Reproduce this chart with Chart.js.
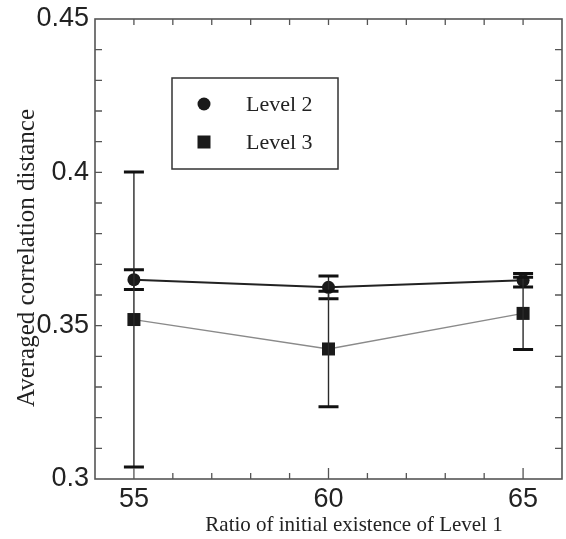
<!DOCTYPE html>
<html>
<head>
<meta charset="utf-8">
<script src="https://cdn.jsdelivr.net/npm/chart.js@4.4.1/dist/chart.umd.min.js"></script>
<style>
  html, body { margin: 0; padding: 0; background: #fff; }
  #wrap { width: 566px; height: 539px; }
</style>
</head>
<body>
<div id="wrap"><canvas id="corrChart" width="566" height="539"></canvas></div>
<script>
// дані з графіка
const ratios = [55, 60, 65];
const level2 = [0.3650, 0.3625, 0.3648];
const level2Err = [0.0032, 0.0037, 0.0022];
const level3 = [0.3520, 0.3424, 0.3540];
const level3Err = [0.0481, 0.0188, 0.0118];
const xMajorTicks = [55, 60, 65];
const yMajorTicks = [0.3, 0.35, 0.4, 0.45];
const xTitle = 'Ratio of initial existence of Level 1';
const yTitle = 'Averaged correlation distance';

const toPoints = (vals) => vals.map((v, i) => ({ x: ratios[i], y: v }));

// похибки, рамка, засічки всередину, легенда і підписи осей
const errorBars = {
  id: 'errorBars',
  afterDatasetsDraw(chart) {
    const { ctx, scales: { x, y } } = chart;
    const sets = [[level2, level2Err], [level3, level3Err]];
    ctx.save();
    sets.forEach(([vals, errs]) => {
      vals.forEach((v, i) => {
        const px = x.getPixelForValue(ratios[i]);
        const top = y.getPixelForValue(v + errs[i]);
        const bot = y.getPixelForValue(v - errs[i]);
        ctx.strokeStyle = '#2a2a2a';
        ctx.lineWidth = 1.4;
        ctx.beginPath();
        ctx.moveTo(px, top);
        ctx.lineTo(px, bot);
        ctx.stroke();
        ctx.strokeStyle = '#111';
        ctx.lineWidth = 3;
        ctx.beginPath();
        ctx.moveTo(px - 10, top); ctx.lineTo(px + 10, top);
        ctx.moveTo(px - 10, bot); ctx.lineTo(px + 10, bot);
        ctx.stroke();
      });
    });
    ctx.restore();
  },
  afterDraw(chart) {
    const { ctx, chartArea: a, scales: { x, y } } = chart;
    ctx.save();
    ctx.strokeStyle = '#555';
    ctx.lineWidth = 1.6;
    ctx.strokeRect(a.left, a.top, a.right - a.left, a.bottom - a.top);
    ctx.lineWidth = 1.3;
    ctx.beginPath();
    for (let v = 55; v <= 65; v++) {
      const px = x.getPixelForValue(v);
      const len = xMajorTicks.includes(v) ? 11 : 6;
      ctx.moveTo(px, a.bottom); ctx.lineTo(px, a.bottom - len);
      ctx.moveTo(px, a.top); ctx.lineTo(px, a.top + 6);
    }
    for (let k = 31; k <= 44; k++) {
      const py = y.getPixelForValue(k / 100);
      ctx.moveTo(a.left, py); ctx.lineTo(a.left + 7, py);
      ctx.moveTo(a.right, py); ctx.lineTo(a.right - 7, py);
    }
    ctx.stroke();

    // легенда
    const bx = 172, by = 78, bw = 166, bh = 91;
    ctx.fillStyle = '#fff';
    ctx.fillRect(bx, by, bw, bh);
    ctx.strokeStyle = '#333';
    ctx.lineWidth = 1.5;
    ctx.strokeRect(bx, by, bw, bh);
    ctx.fillStyle = '#1a1a1a';
    ctx.beginPath();
    ctx.arc(204, 104, 6.5, 0, Math.PI * 2);
    ctx.fill();
    ctx.fillRect(197.5, 135.5, 13, 13);
    ctx.fillStyle = '#222';
    ctx.font = '22px "Liberation Serif", serif';
    ctx.textBaseline = 'middle';
    ctx.fillText(chart.data.datasets[0].label, 246, 105);
    ctx.fillText(chart.data.datasets[1].label, 246, 143);

    // підписи осей
    ctx.textAlign = 'center';
    ctx.font = '21px "Liberation Serif", serif';
    ctx.fillText(xTitle, 354, 525);
    ctx.translate(27, 258);
    ctx.rotate(-Math.PI / 2);
    ctx.font = '25px "Liberation Serif", serif';
    ctx.fillText(yTitle, 0, 0);
    ctx.restore();
  }
};

const ctx = document.getElementById('corrChart').getContext('2d');

new Chart(ctx, {
  type: 'scatter',
  data: {
    datasets: [
      {
        label: 'Level 2',
        data: toPoints(level2),
        showLine: true,
        borderColor: '#222',
        borderWidth: 2,
        pointStyle: 'circle',
        pointRadius: 6.5,
        pointBackgroundColor: '#1a1a1a',
        pointBorderWidth: 0
      },
      {
        label: 'Level 3',
        data: toPoints(level3),
        showLine: true,
        borderColor: '#8a8a8a',
        borderWidth: 1.3,
        pointStyle: 'rect',
        pointRadius: 9.2,
        pointBackgroundColor: '#1a1a1a',
        pointBorderWidth: 0
      }
    ]
  },
  options: {
    responsive: false,
    animation: false,
    layout: { autoPadding: false, padding: { top: 19, right: 4, left: 0, bottom: 0 } },
    plugins: { legend: { display: false }, tooltip: { enabled: false } },
    scales: {
      x: {
        type: 'linear',
        min: 54,
        max: 66,
        afterFit: (s) => { s.height = 60; s.paddingLeft = 0; s.paddingRight = 0; },
        afterBuildTicks: (s) => { s.ticks = xMajorTicks.map(v => ({ value: v })); },
        grid: { display: false, drawTicks: false },
        border: { display: false },
        ticks: {
          padding: 4,
          color: '#222',
          font: { family: '"Liberation Sans", Arial, sans-serif', size: 27 }
        }
      },
      y: {
        min: 0.3,
        max: 0.45,
        afterFit: (s) => { s.width = 95; s.paddingTop = 0; s.paddingBottom = 0; },
        afterBuildTicks: (s) => { s.ticks = yMajorTicks.map(v => ({ value: v })); },
        grid: { display: false, drawTicks: false },
        border: { display: false },
        ticks: {
          padding: 6,
          color: '#222',
          font: { family: '"Liberation Sans", Arial, sans-serif', size: 27 },
          callback: (v) => String(Math.round(v * 100) / 100)
        }
      }
    }
  },
  plugins: [errorBars]
});
</script>
</body>
</html>
